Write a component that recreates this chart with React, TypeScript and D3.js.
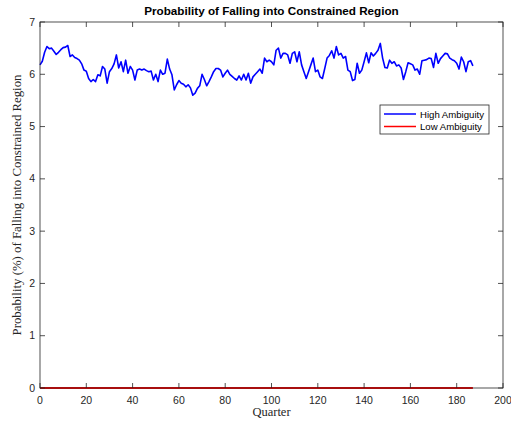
import React from 'react';
import * as d3 from 'd3';

// Estimated values (quarters 0..187)
const highAmbiguity = [
  6.18, 6.25, 6.42, 6.53, 6.49, 6.50, 6.44, 6.38, 6.42, 6.47,
  6.51, 6.52, 6.55, 6.34, 6.37, 6.32, 6.30, 6.27, 6.20, 6.08,
  6.06, 5.92, 5.86, 5.90, 5.86, 5.99, 5.97, 6.15, 6.10, 5.83,
  6.05, 6.11, 6.20, 6.37, 6.12, 6.24, 6.05, 6.27, 6.02, 6.15,
  6.08, 5.89, 6.08, 6.10, 6.08, 6.10, 6.07, 6.05, 6.06, 5.89,
  6.00, 5.86, 6.08, 6.00, 6.02, 6.29, 6.10, 5.99, 5.70, 5.80,
  5.88, 5.83, 5.81, 5.76, 5.80, 5.74, 5.60, 5.64, 5.73, 5.78,
  6.00, 5.90, 5.78, 5.86, 5.95, 6.05, 6.11, 6.11, 6.08, 5.95,
  6.02, 6.08, 6.00, 5.96, 5.92, 5.89, 5.97, 5.89, 6.00, 5.89,
  6.02, 5.83, 5.95, 6.00, 6.05, 6.10, 6.02, 6.31, 6.24, 6.27,
  6.24, 6.18, 6.46, 6.50, 6.31, 6.40, 6.40, 6.37, 6.21, 6.40,
  6.43, 6.24, 6.43, 6.18, 6.05, 5.92, 6.05, 6.18, 6.31, 6.05,
  6.08, 5.95, 5.92, 6.11, 6.31, 6.36, 6.45, 6.31, 6.53, 6.37,
  6.40, 6.31, 6.34, 6.08, 6.05, 5.88, 5.90, 6.21, 6.02, 6.08,
  6.24, 6.41, 6.22, 6.41, 6.35, 6.40, 6.46, 6.59, 6.31, 6.13,
  6.12, 6.27, 6.21, 6.24, 6.16, 6.18, 6.12, 5.90, 6.05, 6.22,
  6.20, 6.18, 6.08, 6.10, 6.00, 6.26, 6.27, 6.28, 6.31, 6.30,
  6.13, 6.40, 6.21, 6.30, 6.35, 6.40, 6.39, 6.31, 6.28, 6.26,
  6.21, 6.10, 6.33, 6.24, 6.05, 6.24, 6.26, 6.16,
];
const lowAmbiguity = highAmbiguity.map(() => 0);

const xTicks = [0, 20, 40, 60, 80, 100, 120, 140, 160, 180, 200];
const yTicks = [0, 1, 2, 3, 4, 5, 6, 7];
const seriesNames = ['High Ambiguity', 'Low Ambiguity'];
const seriesColors = ['#0000ff', '#ff0000'];

const W = 511;
const H = 426;
const margin = { left: 40, right: 8, top: 22, bottom: 38 };

export default function App() {
  const x = d3.scaleLinear().domain([0, 200]).range([margin.left, W - margin.right]);
  const y = d3.scaleLinear().domain([0, 7]).range([H - margin.bottom, margin.top]);

  const line = d3.line<number>()
    .x((d, i) => x(i))
    .y(d => y(d));

  const axisColor = '#262626';
  const tickLen = 5;
  const sans = '"Liberation Sans", Arial, sans-serif';
  const serif = '"Liberation Serif", "DejaVu Serif", serif';

  const x0 = x(0), x1 = x(200), y0 = y(0), y1 = y(7);

  const legX = 380, legY = 105, legW = 109, legH = 29;

  return (
    <svg width={W} height={H} style={{ position: 'absolute', left: 0, top: 0, background: '#fff' }}>
      <rect x={0} y={0} width={W} height={H} fill="#fff" />

      {/* data lines */}
      <path d={line(highAmbiguity) || ''} fill="none" stroke={seriesColors[0]} strokeWidth={1.6} strokeLinejoin="round" />
      <path d={line(lowAmbiguity) || ''} fill="none" stroke={seriesColors[1]} strokeWidth={2} />

      {/* box */}
      <rect x={x0} y={y1} width={x1 - x0} height={y0 - y1} fill="none" stroke={axisColor} strokeWidth={0.8} />

      {/* x ticks */}
      {xTicks.map(t => (
        <g key={'x' + t}>
          <line x1={x(t)} x2={x(t)} y1={y0} y2={y0 - tickLen} stroke={axisColor} strokeWidth={0.8} />
          <line x1={x(t)} x2={x(t)} y1={y1} y2={y1 + tickLen} stroke={axisColor} strokeWidth={0.8} />
          <text x={x(t)} y={y0 + 16} textAnchor="middle" fontFamily={sans} fontSize={10.5} fill={axisColor}>{t}</text>
        </g>
      ))}

      {/* y ticks */}
      {yTicks.map(t => (
        <g key={'y' + t}>
          <line x1={x0} x2={x0 + tickLen} y1={y(t)} y2={y(t)} stroke={axisColor} strokeWidth={0.8} />
          <line x1={x1} x2={x1 - tickLen} y1={y(t)} y2={y(t)} stroke={axisColor} strokeWidth={0.8} />
          <text x={x0 - 5} y={y(t) + 3.5} textAnchor="end" fontFamily={sans} fontSize={10.5} fill={axisColor}>{t}</text>
        </g>
      ))}

      {/* title and labels */}
      <text x={(x0 + x1) / 2} y={15} textAnchor="middle" fontFamily={sans} fontWeight="bold" fontSize={11.7} fill="#000">
        Probability of Falling into Constrained Region
      </text>
      <text x={(x0 + x1) / 2} y={416} textAnchor="middle" fontFamily={serif} fontSize={12.5} fill={axisColor}>Quarter</text>
      <text transform={`translate(21, ${(y0 + y1) / 2}) rotate(-90)`} textAnchor="middle" fontFamily={serif} fontSize={12.8} fill={axisColor}>
        Probability (%) of Falling into Constrained Region
      </text>

      {/* legend */}
      <rect x={legX} y={legY} width={legW} height={legH} fill="#fff" stroke={axisColor} strokeWidth={0.8} />
      {seriesNames.map((name, i) => (
        <g key={name}>
          <line x1={legX + 4} x2={legX + 36} y1={legY + 9 + i * 12.5} y2={legY + 9 + i * 12.5} stroke={seriesColors[i]} strokeWidth={1.5} />
          <text x={legX + 40} y={legY + 12.5 + i * 12.5} fontFamily={sans} fontSize={9.6} fill="#000">{name}</text>
        </g>
      ))}
    </svg>
  );
}
